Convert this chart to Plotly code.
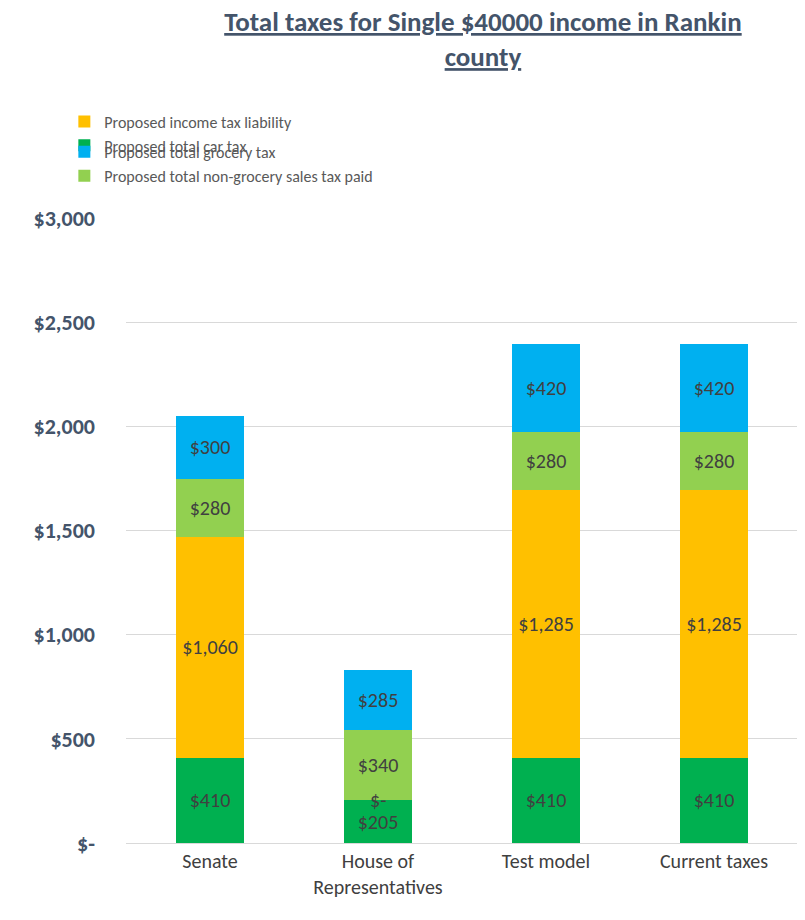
import plotly.graph_objects as go

# Chart data
categories = ["Senate", "House of<br>Representatives", "Test model", "Current taxes"]
car_tax = [410, 205, 410, 410]
income_tax = [1060, 0, 1285, 1285]
non_grocery_tax = [280, 340, 280, 280]
grocery_tax = [300, 285, 420, 420]

series = [
    ("Proposed total car tax", car_tax, "#00B050", "legend"),
    ("Proposed income tax liability", income_tax, "#FFC000", "legend"),
    ("Proposed total non-grocery sales tax paid", non_grocery_tax, "#92D050", "legend2"),
    ("Proposed total grocery tax", grocery_tax, "#00B0F0", "legend2"),
]


def money(v):
    return "$-" if v == 0 else f"${v:,}"


fig = go.Figure()
for name, vals, color, leg in series:
    fig.add_trace(go.Bar(
        x=categories, y=vals, name=name, marker_color=color, marker_line_width=0,
        text=[money(v) for v in vals], textposition="inside",
        insidetextanchor="middle", textangle=0, legend=leg,
        textfont=dict(size=20, color="#404040"),
    ))

# zero-height segments get their label drawn as an annotation
for i, v in enumerate(income_tax):
    if v == 0:
        fig.add_annotation(x=categories[i], y=car_tax[i], text=money(v),
                           showarrow=False, font=dict(size=20, color="#404040"))

legend_style = dict(orientation="h", xanchor="left", yanchor="top", xref="container", yref="container",
                    entrywidth=335, entrywidthmode="pixels", itemwidth=30,
                    font=dict(size=16, color="#595959"), bgcolor="rgba(0,0,0,0)")

fig.update_layout(
    barmode="stack", bargap=0.6,
    width=805, height=920,
    paper_bgcolor="white", plot_bgcolor="white",
    font=dict(family="Calibri, Liberation Sans, sans-serif", color="#595959"),
    title=dict(text="<b><u>Total taxes for Single $40000 income in Rankin<br>county</u></b>",
               x=0.59, xanchor="center", xref="container", y=0.975, yanchor="top", yref="container",
               font=dict(size=27, color="#44546A")),
    legend=dict(x=0.07, y=0.895, **legend_style),
    legend2=dict(x=0.07, y=0.862, **legend_style),
    margin=dict(l=118, r=15, t=178, b=85),
    showlegend=True,
)
fig.update_yaxes(range=[0, 3000], tickvals=[0, 500, 1000, 1500, 2000, 2500, 3000],
                 ticktext=["<b>" + t + "</b>" for t in
                           ["$-", "$500", "$1,000", "$1,500", "$2,000", "$2,500", "$3,000"]],
                 tickfont=dict(size=22, color="#44546A"),
                 gridcolor="#D9D9D9", zeroline=False, ticks="", ticklabelstandoff=30)
fig.update_xaxes(tickfont=dict(size=20, color="#404040"), showline=True, linecolor="#D9D9D9")

fig.write_html("out.html")
